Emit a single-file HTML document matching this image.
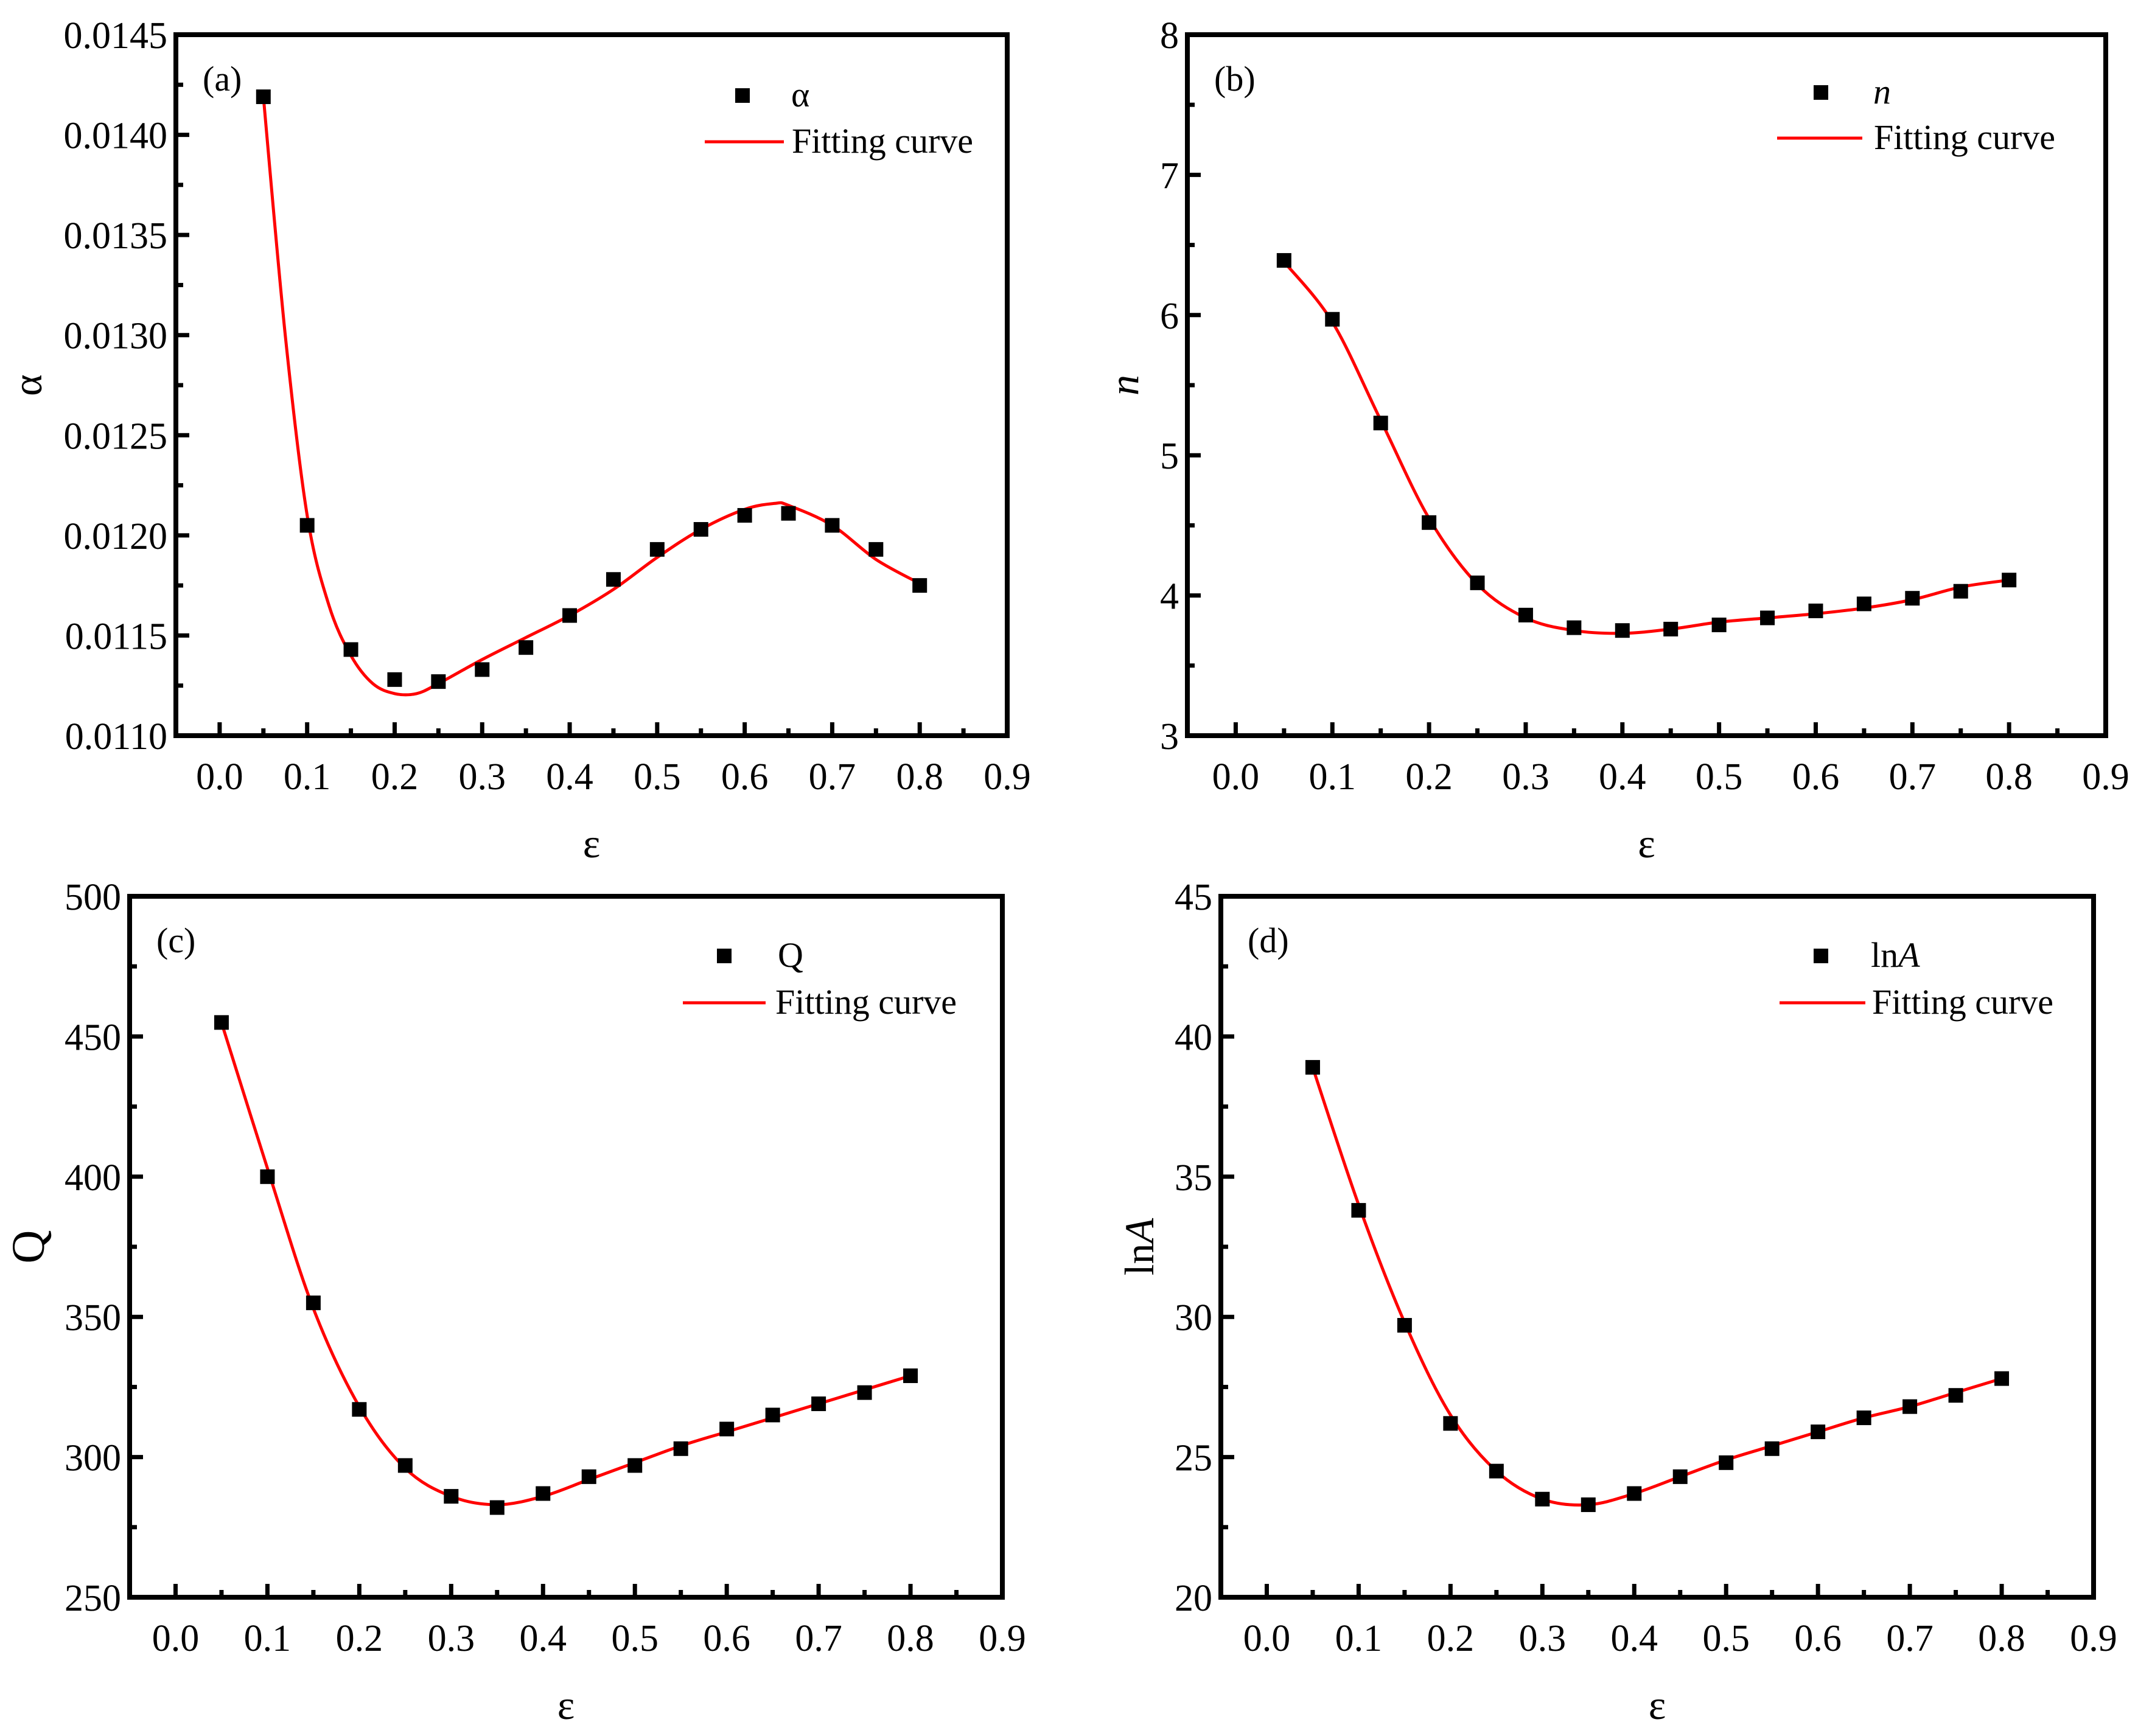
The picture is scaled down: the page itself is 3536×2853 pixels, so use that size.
<!DOCTYPE html>
<html><head><meta charset="utf-8">
<style>
html,body{margin:0;padding:0;background:#fff;}
svg{display:block;font-family:"Liberation Serif",serif;}
</style></head>
<body>
<svg id="fig" width="3536" height="2853" viewBox="0 0 3536 2853" xmlns="http://www.w3.org/2000/svg"></svg>
<script>
const xCats = [0.05,0.1,0.15,0.2,0.25,0.3,0.35,0.4,0.45,0.5,0.55,0.6,0.65,0.7,0.75,0.8];
const xTickLabels = ["0.0","0.1","0.2","0.3","0.4","0.5","0.6","0.7","0.8","0.9"];
const alphaVals = [0.01419,0.01205,0.01143,0.01128,0.01127,0.01133,0.01144,0.0116,0.01178,0.01193,0.01203,0.0121,0.01211,0.01205,0.01193,0.01175];
const alphaFitX = [0.05,0.075,0.1,0.125,0.15,0.175,0.2,0.225,0.25,0.3,0.35,0.4,0.45,0.5,0.55,0.6,0.635,0.65,0.7,0.75,0.8];
const alphaFit = [0.01419,0.01300,0.01210,0.01165,0.01140,0.01126,0.01121,0.01121,0.01126,0.01138,0.01149,0.01160,0.01173,0.01189,0.01203,0.01213,0.01216,0.01215,0.01205,0.01188,0.01176];
const nVals = [6.39,5.97,5.23,4.52,4.09,3.86,3.77,3.75,3.76,3.79,3.84,3.89,3.94,3.98,4.03,4.11];
const nFit = [6.38,5.95,5.25,4.55,4.08,3.84,3.75,3.73,3.76,3.81,3.84,3.87,3.91,3.97,4.06,4.11];
const qVals = [455,400,355,317,297,286,282,287,293,297,303,310,315,319,323,329];
const qFit = [455,403,353,318,296,286,283,286,292,298,304,309,314,319,324,329];
const lnAVals = [38.9,33.8,29.7,26.2,24.5,23.5,23.3,23.7,24.3,24.8,25.3,25.9,26.4,26.8,27.2,27.8];
const lnAFit = [38.9,34.0,29.8,26.5,24.5,23.5,23.3,23.7,24.3,24.9,25.4,25.9,26.4,26.8,27.3,27.8];
const alphaTicks = ["0.0110","0.0115","0.0120","0.0125","0.0130","0.0135","0.0140","0.0145"];
const nTicks = ["3","4","5","6","7","8"];
const qTicks = ["250","300","350","400","450","500"];
const lnATicks = ["20","25","30","35","40","45"];

const NS="http://www.w3.org/2000/svg";
const svg=document.getElementById('fig');
function mk(tag,attrs,parent,text){const e=document.createElementNS(NS,tag);for(const k in attrs)e.setAttribute(k,attrs[k]);if(text!==undefined)e.textContent=text;(parent||svg).appendChild(e);return e;}

function smoothPath(pts){
  let d=`M${pts[0][0].toFixed(1)},${pts[0][1].toFixed(1)}`;
  for(let i=0;i<pts.length-1;i++){
    const p0=pts[Math.max(0,i-1)],p1=pts[i],p2=pts[i+1],p3=pts[Math.min(pts.length-1,i+2)];
    const c1=[p1[0]+(p2[0]-p0[0])/6,p1[1]+(p2[1]-p0[1])/6];
    const c2=[p2[0]-(p3[0]-p1[0])/6,p2[1]-(p3[1]-p1[1])/6];
    d+=` C${c1[0].toFixed(1)},${c1[1].toFixed(1)} ${c2[0].toFixed(1)},${c2[1].toFixed(1)} ${p2[0].toFixed(1)},${p2[1].toFixed(1)}`;
  }
  return d;
}

function panel(o){
  const g=mk('g',{});
  
  
  const L=o.L,R=o.R,T=o.T,B=o.B;
  const xs=v=>L+(v+0.05)/0.95*(R-L);
  const ymin=parseFloat(o.ticks[0]),ymax=parseFloat(o.ticks[o.ticks.length-1]);
  const ys=v=>B-(v-ymin)/(ymax-ymin)*(B-T);
  for(let i=0;i<xTickLabels.length;i++){
    const v=i*0.1,x=xs(v);
    if(i<9){
      const t=mk('line',{x1:x,x2:x,y1:B,y2:B-22,stroke:'#000','stroke-width':7},g);
      
      const m=mk('line',{x1:xs(v+0.05),x2:xs(v+0.05),y1:B,y2:B-12,stroke:'#000','stroke-width':7},g);
      
    }
    const lb=mk('text',{x:x,y:B+88,'font-size':62,'text-anchor':'middle'},g,xTickLabels[i]);
    
  }
  const step=(ymax-ymin)/(o.ticks.length-1);
  for(let i=0;i<o.ticks.length;i++){
    const v=ymin+i*step,y=ys(v);
    const t=mk('line',{x1:L,x2:L+22,y1:y,y2:y,stroke:'#000','stroke-width':7},g);
    
    if(i<o.ticks.length-1){const m=mk('line',{x1:L,x2:L+12,y1:ys(v+step/2),y2:ys(v+step/2),stroke:'#000','stroke-width':7},g);
    }
    const lb=mk('text',{x:L-14,y:y+22,'font-size':62,'text-anchor':'end'},g,o.ticks[i]);
    
  }
  const fr=mk('rect',{x:L,y:T,width:R-L,height:B-T,fill:'none',stroke:'#000','stroke-width':8},g);
  
  const pts=o.fitX.map((xv,i)=>[xs(xv),ys(o.fit[i])]);
  const c=mk('path',{d:smoothPath(pts),fill:'none',stroke:'#ff0000','stroke-width':5},g);
  
  xCats.forEach((xv,i)=>{
    const s=mk('rect',{x:xs(xv)-12,y:ys(o.vals[i])-12,width:24,height:24,fill:'#000'},g);
    
  });
  const pl=mk('text',{x:L+44,y:T+92,'font-size':58},g,'('+o.id+')');
  
  const lg=mk('g',{},g);
  
  const sq=mk('rect',{x:o.lg.sqx-12,y:o.lg.sqy-12,width:24,height:24,fill:'#000'},lg);
  
  const st=mk('text',{x:o.lg.tx,y:o.lg.sqy+18,'font-size':58},lg);
  
  st.innerHTML=o.lg.label;
  const ln=mk('line',{x1:o.lg.lx1,x2:o.lg.lx2,y1:o.lg.ly,y2:o.lg.ly,stroke:'#ff0000','stroke-width':5},lg);
  
  const ft=mk('text',{x:o.lg.tx2,y:o.lg.ly+18,'font-size':58},lg,'Fitting curve');
  
  const xt=mk('text',{x:(L+R)/2,y:B+200,'font-size':68,'text-anchor':'middle'},g,'ε');
  
  const yt=mk('text',{x:0,y:0,'font-size':o.ytSize||68,'text-anchor':'middle',transform:`translate(${o.ytx},${(T+B)/2}) rotate(-90)`},g);
  
  yt.innerHTML=o.ytitle;
}

panel({id:'a',L:289,R:1655,T:57,B:1209,ticks:alphaTicks,vals:alphaVals,fitX:alphaFitX,fit:alphaFit,ytx:68,ytitle:'α',
  lg:{sqx:1220,sqy:157,tx:1300,lx1:1158,lx2:1288,ly:233,tx2:1301,label:'α'}});
panel({id:'b',L:1951,R:3460,T:57,B:1209,ticks:nTicks,vals:nVals,fitX:xCats,fit:nFit,ytx:1870,ytitle:'<tspan font-style="italic">n</tspan>',
  lg:{sqx:2992,sqy:152,tx:3078,lx1:2920,lx2:3060,ly:227,tx2:3079,label:'<tspan font-style="italic">n</tspan>'}});
panel({id:'c',L:213,R:1647,T:1473,B:2625,ticks:qTicks,vals:qVals,fitX:xCats,fit:qFit,ytx:72,ytSize:76,ytitle:'Q',
  lg:{sqx:1190,sqy:1571,tx:1278,lx1:1122,lx2:1258,ly:1648,tx2:1274,label:'Q'}});
panel({id:'d',L:2006,R:3440,T:1473,B:2625,ticks:lnATicks,vals:lnAVals,fitX:xCats,fit:lnAFit,ytx:1895,ytitle:'ln<tspan font-style="italic">A</tspan>',
  lg:{sqx:2992,sqy:1571,tx:3074,lx1:2924,lx2:3065,ly:1648,tx2:3076,label:'ln<tspan font-style="italic">A</tspan>'}});
</script>
</body></html>
